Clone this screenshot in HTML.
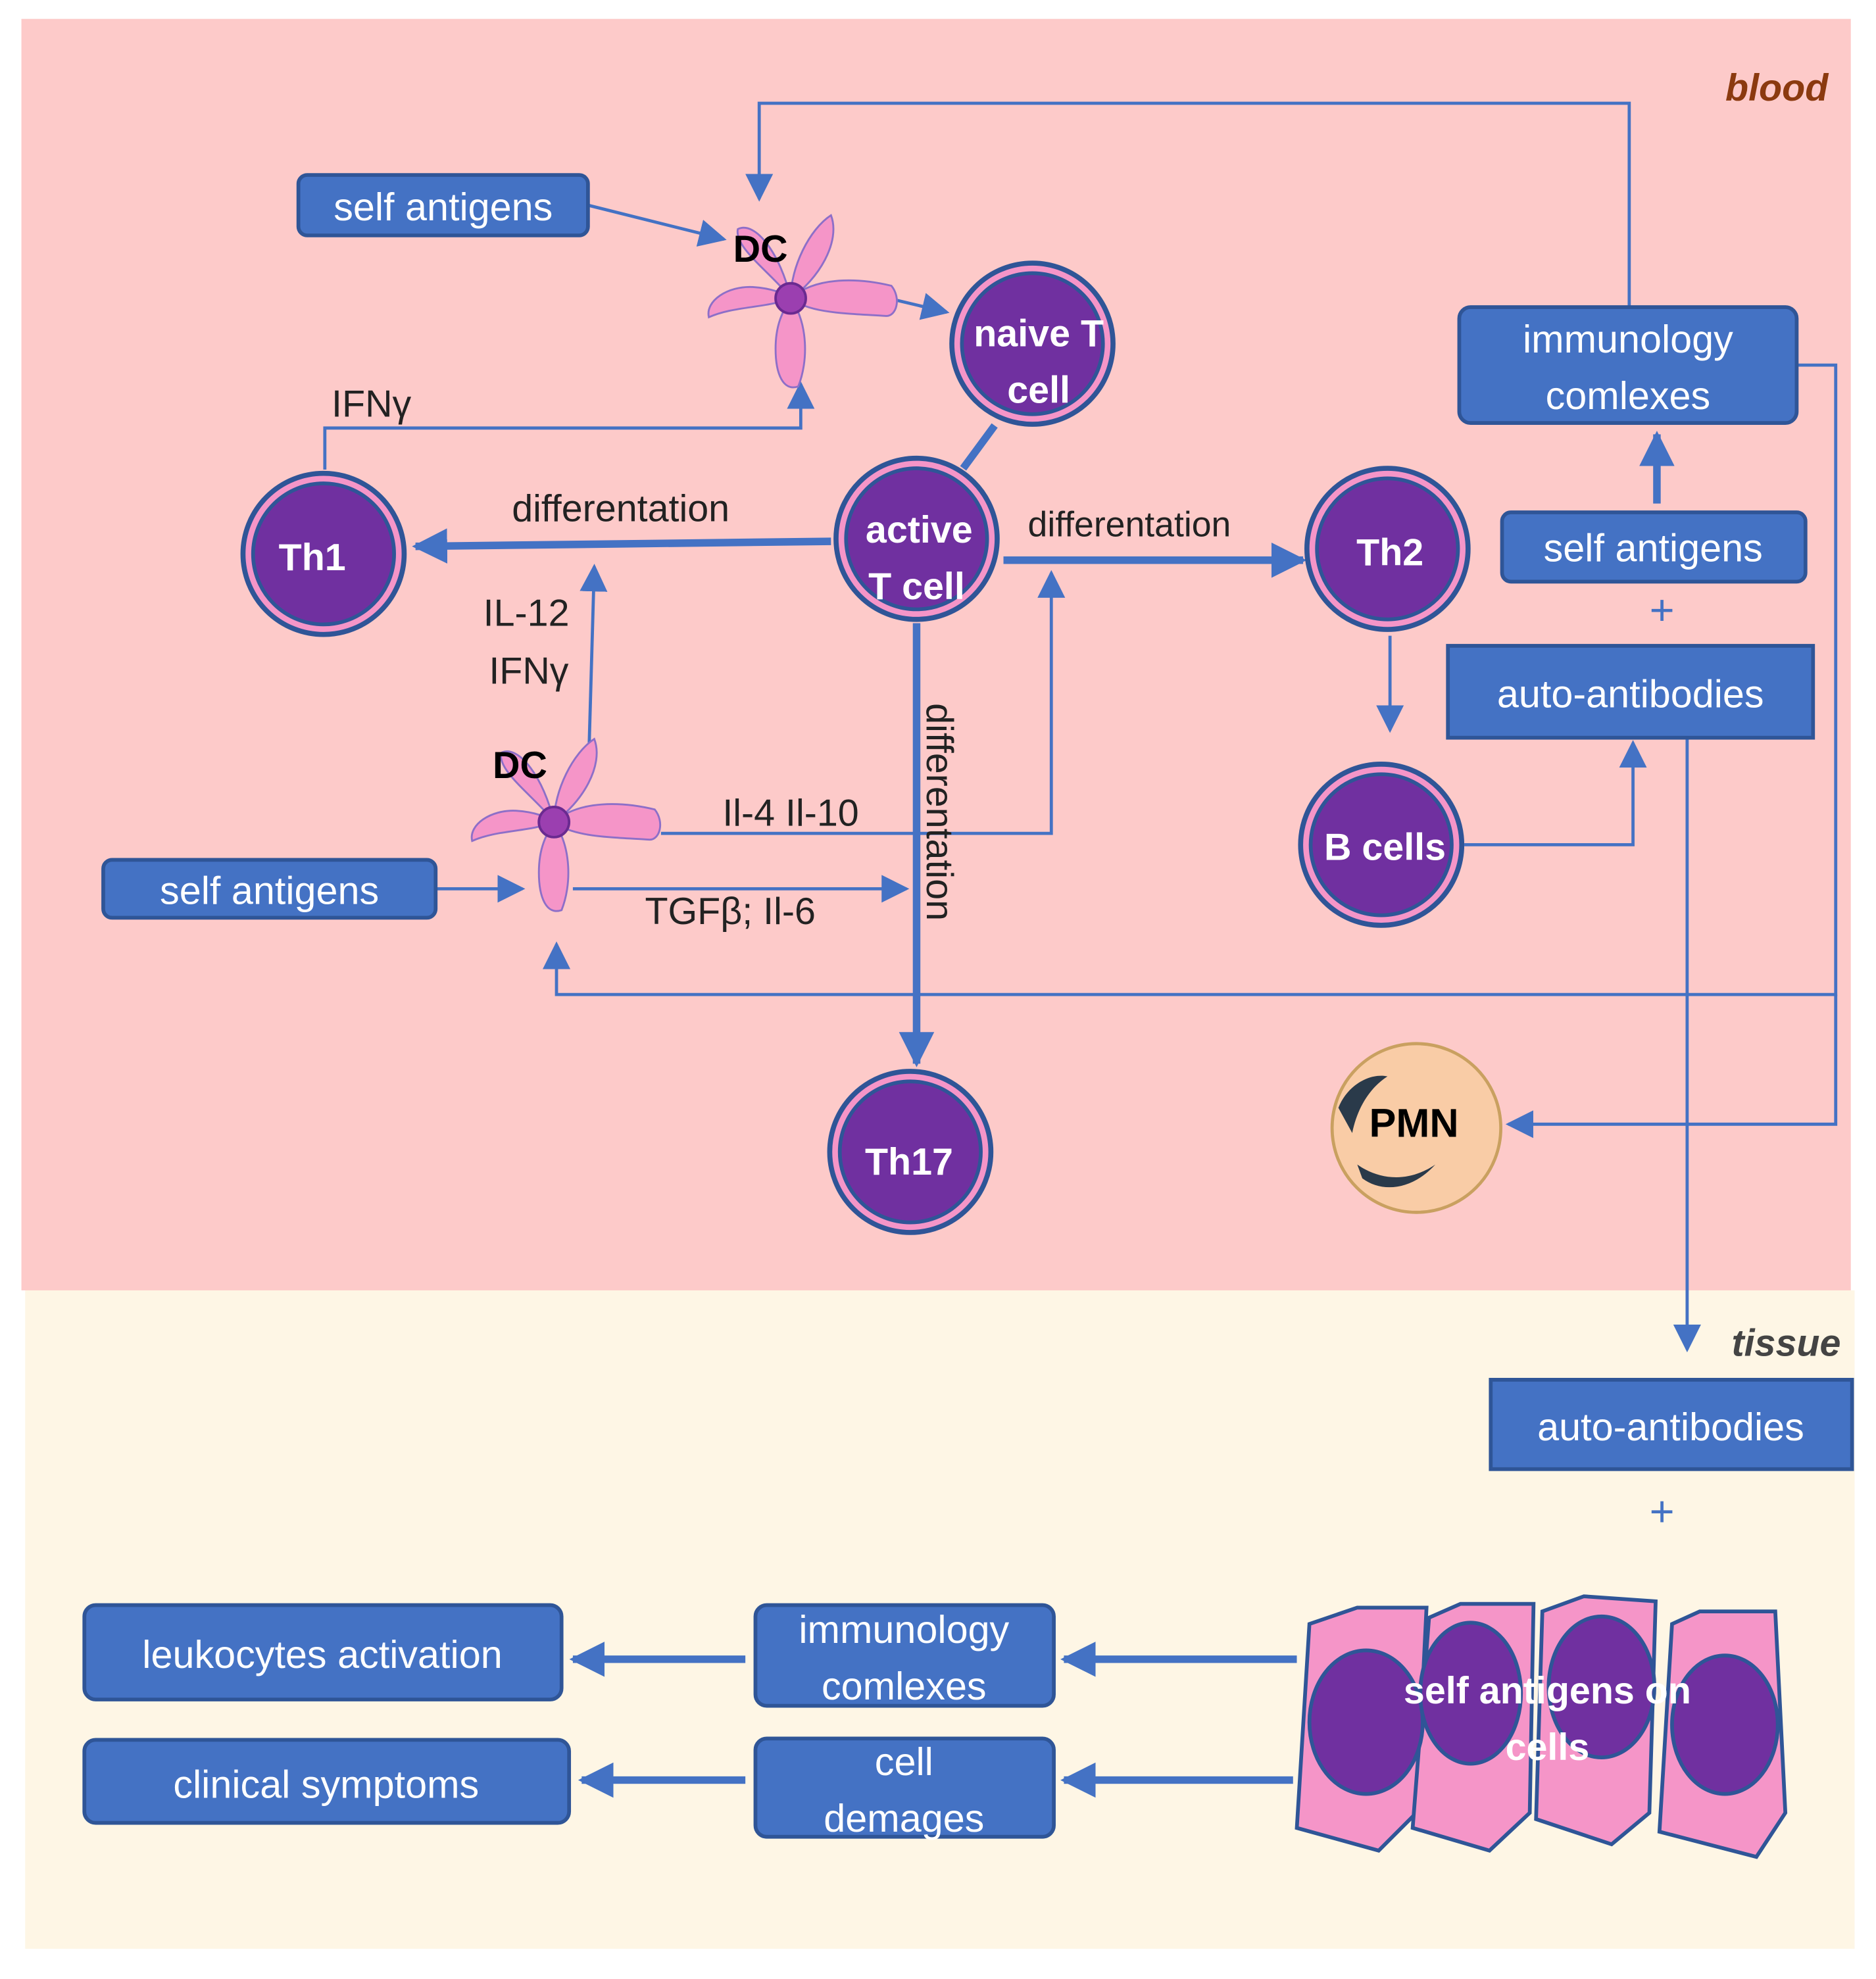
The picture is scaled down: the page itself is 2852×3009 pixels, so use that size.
<!DOCTYPE html>
<html><head><meta charset="utf-8"><style>html,body{margin:0;padding:0;background:#fff}svg{display:block}</style></head>
<body>
<svg width="2852" height="3009" viewBox="0 0 1490 1572" preserveAspectRatio="none" xmlns="http://www.w3.org/2000/svg" font-family="Liberation Sans, sans-serif">
<defs>
<marker id="ah" viewBox="0 0 10 10" refX="9" refY="5" markerWidth="22" markerHeight="22" orient="auto" markerUnits="userSpaceOnUse"><path d="M0,0L10,5L0,10z" fill="#4472c4"/></marker>
<marker id="at" viewBox="0 0 10 10" refX="9" refY="5" markerWidth="28" markerHeight="28" orient="auto" markerUnits="userSpaceOnUse"><path d="M0,0L10,5L0,10z" fill="#4472c4"/></marker>
<g id="dc">
<path d="M0,0 C-15,-20 -45,-40 -42,-55 C-28,-62 -8,-35 0,0z" fill="#f595c8" stroke="#8d6fc8" stroke-width="1.5"/>
<path d="M0,0 C0,-25 15,-55 32,-66 C40,-45 22,-15 0,0z" fill="#f595c8" stroke="#8d6fc8" stroke-width="1.5"/>
<path d="M0,0 C20,-18 55,-16 80,-10 C88,0 84,14 76,14 C45,12 15,12 0,0z" fill="#f595c8" stroke="#8d6fc8" stroke-width="1.5"/>
<path d="M0,0 C14,20 14,50 6,70 C-6,74 -12,60 -12,40 C-12,20 -6,10 0,0z" fill="#f595c8" stroke="#8d6fc8" stroke-width="1.5"/>
<path d="M0,0 C-20,8 -45,6 -65,15 C-68,2 -50,-10 -30,-9 C-15,-8 -5,-4 0,0z" fill="#f595c8" stroke="#8d6fc8" stroke-width="1.5"/>
<circle r="12" fill="#9b3fb0" stroke="#6a2a90" stroke-width="2"/>
</g>
<g id="cell">
<circle r="64" fill="#f595c8" stroke="#2f5597" stroke-width="4"/>
<circle r="56" fill="#7030a0" stroke="#2f5597" stroke-width="3"/>
</g>
</defs>
<rect x="17" y="15" width="1453" height="1010" fill="#fdcac9"/>
<rect x="20" y="1025" width="1453" height="523" fill="#fef6e5"/>
<text x="1452" y="80" text-anchor="end" font-size="30" font-weight="bold" font-style="italic" fill="#8b3a0f">blood</text>
<text x="1462" y="1077" text-anchor="end" font-size="30" font-weight="bold" font-style="italic" fill="#444">tissue</text>

<g fill="none" stroke="#4472c4" stroke-width="2.5">
<path d="M467,163 L575,190" marker-end="url(#ah)"/>
<path d="M710,238 L752,248" marker-end="url(#ah)"/>
<path d="M258,373 V340 H636 V305" marker-end="url(#ah)"/>
<path d="M468,590 L472,450" marker-end="url(#ah)"/>
<path d="M525,662 H835 V455" marker-end="url(#ah)"/>
<path d="M346,706 H415" marker-end="url(#ah)"/>
<path d="M455,706 H720" marker-end="url(#ah)"/>
<path d="M1427,290 H1458 V790 H442 V750" marker-end="url(#ah)"/>
<path d="M1458,790 V893 H1198" marker-end="url(#ah)"/>
<path d="M1294,245 V82 H603 V158" marker-end="url(#ah)"/>
<path d="M1104,505 V580" marker-end="url(#ah)"/>
<path d="M1163,671 H1297 V590" marker-end="url(#ah)"/>
<path d="M1340,586 V1072" marker-end="url(#ah)"/>
</g>
<g fill="none" stroke="#4472c4" stroke-width="6">
<path d="M790,338 L765,372"/>
<path d="M660,430 L330,434" marker-end="url(#at)"/>
<path d="M797,445 L1035,445" marker-end="url(#at)"/>
<path d="M728,495 V845" marker-end="url(#at)"/>
<path d="M1316,400 V345" marker-end="url(#at)"/>
<path d="M1030,1318 H845" marker-end="url(#at)"/>
<path d="M1027,1414 H845" marker-end="url(#at)"/>
<path d="M592,1318 H455" marker-end="url(#at)"/>
<path d="M592,1414 H462" marker-end="url(#at)"/>
</g>

<use href="#dc" x="628" y="237"/>
<use href="#dc" x="440" y="653"/>
<text x="604" y="208" text-anchor="middle" font-size="30" font-weight="bold">DC</text>
<text x="413" y="618" text-anchor="middle" font-size="30" font-weight="bold">DC</text>

<g font-size="30" fill="#222">
<text x="295" y="331" text-anchor="middle">IFNγ</text>
<text x="493" y="414" text-anchor="middle">differentation</text>
<text x="897" y="426" text-anchor="middle" font-size="28">differentation</text>
<text x="418" y="497" text-anchor="middle">IL-12</text>
<text x="420" y="543" text-anchor="middle">IFNγ</text>
<text x="628" y="656" text-anchor="middle">Il-4 Il-10</text>
<text x="580" y="734" text-anchor="middle">TGFβ; Il-6</text>
<text transform="translate(736,645) rotate(90)" text-anchor="middle" font-size="30">differentation</text>
</g>

<g font-size="30" font-weight="bold" fill="#fff" text-anchor="middle">
<use href="#cell" x="820" y="273"/>
<text x="825" y="275">naive T</text><text x="825" y="320">cell</text>
<use href="#cell" x="728" y="428"/>
<text x="730" y="431">active</text><text x="728" y="476">T cell</text>
<use href="#cell" x="257" y="440"/>
<text x="248" y="453">Th1</text>
<use href="#cell" x="1102" y="436"/>
<text x="1104" y="449">Th2</text>
<use href="#cell" x="1097" y="671"/>
<text x="1100" y="683">B cells</text>
<use href="#cell" x="723" y="915"/>
<text x="722" y="933">Th17</text>
</g>

<circle cx="1125" cy="896" r="67" fill="#f9cca6" stroke="#c9a060" stroke-width="2.5"/>
<path d="M1063,880 C1070,862 1088,852 1102,855 C1088,864 1078,880 1074,900 Z" fill="#2a3a4a"/>
<path d="M1078,925 C1095,937 1118,940 1140,925 C1122,945 1098,948 1082,936 Z" fill="#2a3a4a"/>
<text x="1123" y="903" text-anchor="middle" font-size="32" font-weight="bold">PMN</text>

<g stroke="#2f5597" stroke-width="3" fill="#f595c8">
<path d="M1040,1290 L1078,1277 L1133,1277 L1125,1440 L1095,1470 L1030,1452 Z"/>
<path d="M1135,1285 L1160,1274 L1218,1274 L1215,1440 L1183,1470 L1122,1452 Z"/>
<path d="M1225,1280 L1258,1268 L1315,1272 L1310,1440 L1280,1465 L1220,1445 Z"/>
<path d="M1328,1290 L1350,1280 L1410,1280 L1418,1440 L1395,1475 L1318,1455 Z"/>
<g fill="#7030a0"><ellipse cx="1085" cy="1368" rx="45" ry="57"/><ellipse cx="1168" cy="1345" rx="40" ry="56"/><ellipse cx="1272" cy="1340" rx="42" ry="56"/><ellipse cx="1370" cy="1370" rx="42" ry="55"/></g>
</g>
<g font-size="30" font-weight="bold" fill="#fff" text-anchor="middle"><text x="1229" y="1353">self antigens on</text><text x="1229" y="1398">cells</text></g>

<g fill="#4472c4" stroke="#2f5597" stroke-width="3">
<rect x="237" y="139" width="230" height="48" rx="7"/>
<rect x="82" y="683" width="264" height="46" rx="7"/>
<rect x="1159" y="244" width="268" height="92" rx="9"/>
<rect x="1193" y="407" width="241" height="55" rx="7"/>
<rect x="1150" y="513" width="290" height="73"/>
<rect x="1184" y="1096" width="287" height="71"/>
<rect x="600" y="1275" width="237" height="80" rx="9"/>
<rect x="600" y="1381" width="237" height="78" rx="9"/>
<rect x="67" y="1275" width="379" height="75" rx="9"/>
<rect x="67" y="1382" width="385" height="66" rx="9"/>
</g>
<g font-size="31" fill="#fff" text-anchor="middle">
<text x="352" y="175">self antigens</text>
<text x="214" y="718">self antigens</text>
<text x="1293" y="280">immunology</text><text x="1293" y="325">comlexes</text>
<text x="1313" y="446">self antigens</text>
<text x="1295" y="562">auto-antibodies</text>
<text x="1327" y="1144">auto-antibodies</text>
<text x="718" y="1305">immunology</text><text x="718" y="1350">comlexes</text>
<text x="718" y="1410">cell</text><text x="718" y="1455">demages</text>
<text x="256" y="1325">leukocytes activation</text>
<text x="259" y="1428">clinical symptoms</text>
</g>
<g font-size="34" fill="#4472c4" text-anchor="middle"><text x="1320" y="496">+</text><text x="1320" y="1212">+</text></g>
</svg>
</body></html>
